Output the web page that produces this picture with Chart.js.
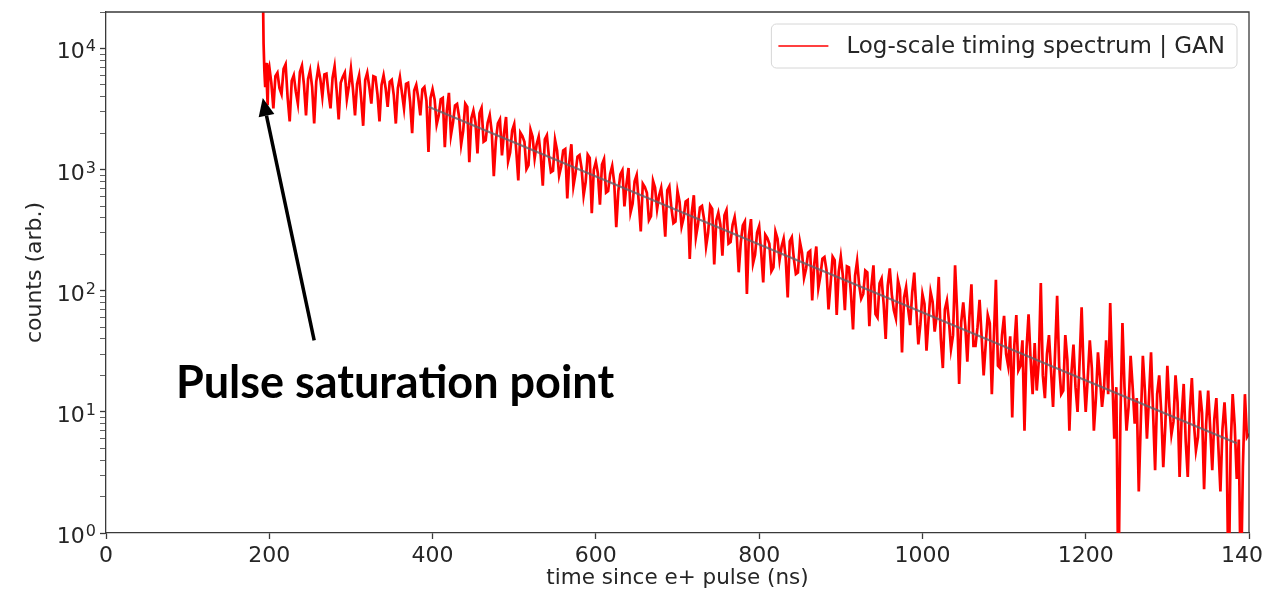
<!DOCTYPE html>
<html>
<head>
<meta charset="utf-8">
<script src="https://cdn.jsdelivr.net/npm/chart.js@4"></script>
<style>
  html, body { margin: 0; padding: 0; background: #fff; }
  #chart { display: block; }
</style>
</head>
<body>
<canvas id="chart" width="1264" height="597"></canvas>
<script>
// timing spectrum (counts per bin, log axis)
const headTimes = [192, 193, 194, 195, 196, 197, 198, 199];
const headCounts = [40000, 11000, 6500, 4800, 7600, 5000, 3400, 6700];

const BULK_START = 200;   // ns
const BULK_STEP = 2.5;    // ns
const bulkCounts = [
  // 200 - 397.5
  7100, 5200, 3200, 5900, 6300, 4700, 4200, 6800, 7400, 3900, 2500, 5400, 6000, 4400, 3500, 6400, 7200, 5000, 2800, 5600,
  6600, 4800, 2400, 5300, 6900, 5600, 4000, 6100, 6200, 4300, 3200, 5700, 7100, 4500, 2600, 5200, 5800, 6300, 3800, 4900,
  6800, 4600, 2800, 5100, 6000, 3900, 2300, 5500, 6300, 4800, 3500, 5900, 5800, 4200, 2500, 5000, 6000, 4700, 3300, 5300,
  5500, 4100, 2400, 4700, 5800, 4300, 3200, 5100, 5200, 3600, 2000, 4500, 5000, 3900, 2800, 4600, 4800, 3700, 1400, 3900,
  // 400 - 597.5
  4600, 3790, 2350, 2790, 3800, 3900, 1530, 3070, 4300, 1920, 2430, 3380, 3480, 2720, 1610, 2090, 3500, 3290, 1150, 2650,
  3060, 2450, 1360, 2910, 3220, 1700, 1750, 2440, 2820, 2050, 883, 1730, 2410, 2600, 1310, 2000, 2720, 1170, 1380, 2100,
  2370, 1440, 815, 2020, 1890, 1700, 1010, 1090, 2130, 1870, 1240, 1620, 1870, 1300, 736, 1780, 1920, 1280, 953, 980,
  1760, 1440, 893, 1060, 1440, 1480, 579, 1160, 1620, 730, 923, 1280, 1320, 1030, 612, 790, 1330, 1250, 436, 1000,
  // 600 - 797.5
  1160, 930, 513, 1100, 1220, 645, 664, 920, 1070, 780, 334, 660, 912, 985, 497, 760, 1030, 442, 522, 800,
  900, 546, 309, 764, 718, 644, 382, 412, 809, 710, 472, 612, 708, 493, 279, 675, 728, 484, 361, 372,
  667, 544, 339, 401, 545, 561, 183, 441, 614, 276, 350, 486, 501, 391, 232, 301, 504, 473, 165, 381,
  440, 352, 195, 419, 462, 245, 252, 350, 405, 295, 142, 249, 346, 373, 94, 287, 390, 168, 198, 302,
  // 800 - 997.5
  341, 207, 117, 290, 272, 244, 145, 156, 307, 269, 179, 232, 269, 187, 88, 256, 276, 184, 137, 141,
  252, 206, 128, 152, 206, 213, 83, 167, 232, 105, 132, 184, 190, 148, 70, 114, 191, 179, 63, 144,
  191, 133, 69, 159, 156, 93, 48, 133, 176, 112, 86, 94, 147, 142, 51, 109, 162, 64, 60, 115,
  126, 78, 40, 110, 153, 93, 69, 59, 122, 102, 31, 88, 107, 71, 52, 97, 141, 70, 36, 53,
  // 1000 - 1197.5
  94, 78, 32, 58, 98, 81, 46, 63, 130, 40, 23, 70, 83, 56, 33, 43, 162, 68, 17, 55,
  80, 51, 26, 60, 113, 35, 35, 50, 84, 42, 20, 36, 63, 54, 14, 41, 123, 24, 23, 43,
  62, 30, 24, 42, 9, 35, 63, 22, 24, 39, 7, 33, 64, 27, 14, 37, 15, 26, 116, 20,
  13, 30, 43, 22, 11, 31, 91, 24, 14, 15, 43, 27, 7, 21, 36, 16, 10, 26, 73, 21,
  // 1200 - 1400
  10, 19, 39, 23, 7, 13, 31, 19, 11, 16, 39, 14, 79, 20, 6, 16, 0.3, 9, 54, 16,
  7, 11, 29, 16, 8, 13, 2.2, 8.5, 29, 15, 6, 13, 31, 10, 3.3, 14, 20, 10, 3.5, 7.7,
  24, 11, 6.5, 8.3, 20, 12, 2.9, 9.1, 17, 5.7, 2.9, 10, 19, 8.1, 4.8, 6.2, 15, 9.8, 2.3, 7.9,
  15, 7.3, 3.3, 8.7, 13, 5.1, 2.2, 7.2, 12, 6.1, 0.3, 5.1, 14, 7.7, 2.8, 5.9, 0.3, 3.5, 14, 6.2,
  6.6
];

// exponential fit (straight on the log axis)
const fitTimes = [395, 1385];
const fitCounts = [3300, 5.5];

const xTicks = [0, 200, 400, 600, 800, 1000, 1200, 1400];
const yDecades = [1, 10, 100, 1000, 10000];

const SERIES_LABEL = 'Log-scale timing spectrum | GAN';
const NOTE_TEXT = 'Pulse saturation point';

// annotation anchor points in data units
const arrowTip = { x: 192, y: 3900 };
const arrowTail = { x: 255, y: 39 };
const noteAt = { x: 354, y: 13 };

const FONT = 'DejaVu Sans';
const TEXT = '#262626';
const FRAME = '#3a3a3a';

const spectrum = headTimes.map((t, i) => ({ x: t, y: headCounts[i] }))
  .concat(bulkCounts.map((c, i) => ({ x: BULK_START + i * BULK_STEP, y: c })));
const fitLine = fitTimes.map((t, i) => ({ x: t, y: fitCounts[i] }));

const yTicks = [];
yDecades.forEach(d => {
  for (let m = 1; m <= 9; m++) {
    if (d * m <= 20000) yTicks.push({ value: d * m, major: m === 1 });
  }
});

Chart.defaults.font.family = FONT;
Chart.defaults.color = TEXT;

const overlay = {
  id: 'overlay',
  afterDraw(chart) {
    const { ctx, chartArea: a, scales: { x, y } } = chart;
    ctx.save();

    // top/right spines
    ctx.strokeStyle = FRAME;
    ctx.lineWidth = 1.3;
    ctx.beginPath();
    ctx.moveTo(a.left, a.top);
    ctx.lineTo(a.right, a.top);
    ctx.lineTo(a.right, a.bottom);
    ctx.stroke();

    // y tick labels as 10 with a raised exponent
    ctx.fillStyle = TEXT;
    ctx.textBaseline = 'alphabetic';
    ctx.textAlign = 'right';
    yDecades.forEach((d, e) => {
      const py = y.getPixelForValue(d);
      ctx.font = '16px "' + FONT + '"';
      const ex = String(e);
      const ew = ctx.measureText(ex).width;
      ctx.fillText(ex, a.left - 10, py + 3);
      ctx.font = '22px "' + FONT + '"';
      ctx.fillText('10', a.left - 11 - ew, py + 10);
    });

    // legend box, upper right
    ctx.font = '23px "' + FONT + '"';
    const tw = ctx.measureText(SERIES_LABEL).width;
    const bw = tw + 87, bh = 44;
    const bx = a.right - 12 - bw, by = a.top + 12;
    ctx.beginPath();
    const r = 5;
    ctx.moveTo(bx + r, by);
    ctx.arcTo(bx + bw, by, bx + bw, by + bh, r);
    ctx.arcTo(bx + bw, by + bh, bx, by + bh, r);
    ctx.arcTo(bx, by + bh, bx, by, r);
    ctx.arcTo(bx, by, bx + bw, by, r);
    ctx.closePath();
    ctx.fillStyle = 'rgba(255,255,255,0.85)';
    ctx.fill();
    ctx.strokeStyle = '#d6d6d6';
    ctx.lineWidth = 1;
    ctx.stroke();
    ctx.strokeStyle = '#ff0000';
    ctx.lineWidth = 1.5;
    ctx.beginPath();
    ctx.moveTo(bx + 7, by + bh / 2);
    ctx.lineTo(bx + 57, by + bh / 2);
    ctx.stroke();
    ctx.fillStyle = TEXT;
    ctx.textBaseline = 'middle';
    ctx.textAlign = 'left';
    ctx.fillText(SERIES_LABEL, bx + 75, by + bh / 2 + 1);

    // arrow
    const tx = x.getPixelForValue(arrowTip.x), ty = y.getPixelForValue(arrowTip.y);
    const sx = x.getPixelForValue(arrowTail.x), sy = y.getPixelForValue(arrowTail.y);
    const ang = Math.atan2(ty - sy, tx - sx);
    const hl = 18, hw = 8;
    const bxh = tx - hl * Math.cos(ang), byh = ty - hl * Math.sin(ang);
    ctx.strokeStyle = '#000';
    ctx.lineWidth = 3.5;
    ctx.beginPath();
    ctx.moveTo(sx, sy);
    ctx.lineTo(bxh, byh);
    ctx.stroke();
    ctx.fillStyle = '#000';
    ctx.beginPath();
    ctx.moveTo(tx, ty);
    ctx.lineTo(bxh + hw * Math.sin(ang), byh - hw * Math.cos(ang));
    ctx.lineTo(bxh - hw * Math.sin(ang), byh + hw * Math.cos(ang));
    ctx.closePath();
    ctx.fill();

    // note text
    ctx.font = 'bold 45px Lato';
    ctx.textAlign = 'center';
    ctx.textBaseline = 'alphabetic';
    ctx.fillStyle = '#000';
    ctx.fillText(NOTE_TEXT, x.getPixelForValue(noteAt.x), y.getPixelForValue(noteAt.y));

    ctx.restore();
  }
};

new Chart(document.getElementById('chart'), {
  type: 'line',
  data: {
    datasets: [
      {
        label: SERIES_LABEL,
        data: spectrum,
        borderColor: '#ff0000',
        borderWidth: 2.7,
        borderJoinStyle: 'miter',
        pointRadius: 0,
        tension: 0,
        order: 2
      },
      {
        label: 'fit',
        data: fitLine,
        borderColor: 'rgba(100,95,105,0.8)',
        borderWidth: 2.2,
        pointRadius: 0,
        order: 1
      }
    ]
  },
  options: {
    responsive: false,
    animation: false,
    layout: { padding: { top: 12, right: 15, left: 0, bottom: 0 } },
    plugins: {
      legend: { display: false },
      tooltip: { enabled: false }
    },
    scales: {
      x: {
        type: 'linear',
        min: 0,
        max: 1400,
        afterBuildTicks: s => { s.ticks = xTicks.map(v => ({ value: v })); },
        afterFit: s => { s.height = 64; s.paddingLeft = 0; s.paddingRight = 0; },
        ticks: {
          autoSkip: false,
          maxRotation: 0,
          padding: 4,
          font: { size: 22 },
          color: TEXT,
          callback: v => String(v)
        },
        grid: { drawOnChartArea: false, tickLength: 6, tickColor: FRAME, tickWidth: 1.3 },
        border: { color: FRAME, width: 1.3 },
        title: {
          display: true,
          text: 'time since e+ pulse (ns)',
          font: { size: 21.5 },
          color: TEXT,
          padding: { top: 0, bottom: 6 }
        }
      },
      y: {
        type: 'logarithmic',
        min: 1,
        max: 20000,
        afterBuildTicks: s => { s.ticks = yTicks.map(t => ({ value: t.value, major: t.major })); },
        afterFit: s => { s.width = 106; s.paddingTop = 0; s.paddingBottom = 0; },
        ticks: {
          autoSkip: false,
          padding: 4,
          font: { size: 22 },
          callback: () => ''
        },
        grid: {
          drawOnChartArea: false,
          tickLength: 6,
          tickColor: FRAME,
          tickWidth: c => (c.tick && c.tick.major ? 1.3 : 0.8)
        },
        border: { color: FRAME, width: 1.3 },
        title: {
          display: true,
          text: 'counts (arb.)',
          font: { size: 22 },
          color: TEXT,
          padding: { top: 22, bottom: 0 }
        }
      }
    }
  },
  plugins: [overlay]
});
</script>
</body>
</html>
